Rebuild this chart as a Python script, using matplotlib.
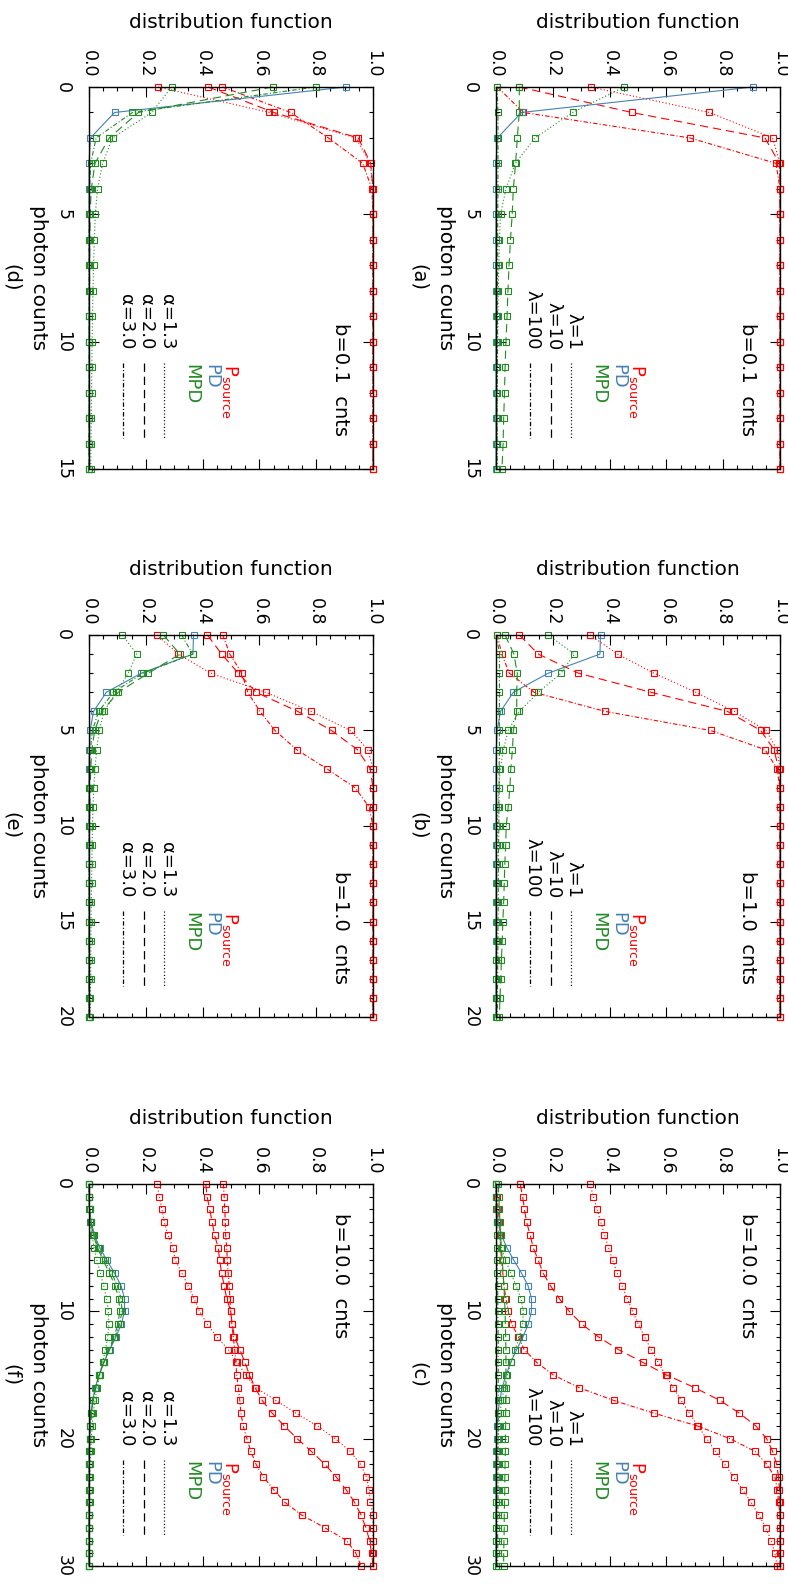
import numpy as np
import matplotlib
matplotlib.use('Agg')
import matplotlib.pyplot as plt
from matplotlib.ticker import MultipleLocator, FormatStrFormatter, FuncFormatter
from matplotlib.lines import Line2D

plt.rcParams['font.family'] = ['DejaVu Sans']
plt.rcParams['lines.scale_dashes'] = False
plt.rcParams['mathtext.fontset'] = 'dejavusans'

RED = '#ff0000'
BLUE = '#4682b4'
GREEN = '#228b22'

# ---------------- data ----------------
counts_b01 = np.arange(0, 16)
counts_b1 = np.arange(0, 21)
counts_b10 = np.arange(0, 31)

# PD (background Poisson)
pd_b01 = [0.905, 0.090, 0.005, 0.0, 0.0, 0.0, 0.0, 0.0, 0.0, 0.0, 0.0, 0.0, 0.0, 0.0, 0.0, 0.0]
pd_b1 = [0.368, 0.366, 0.184, 0.061, 0.016, 0.004, 0.001, 0.0, 0.0, 0.0, 0.0,
         0.0, 0.0, 0.0, 0.0, 0.0, 0.0, 0.0, 0.0, 0.0, 0.0]
pd_b10 = [0.0, 0.0, 0.002, 0.008, 0.019, 0.038, 0.063, 0.090, 0.113, 0.125, 0.125,
          0.114, 0.095, 0.073, 0.052, 0.035, 0.022, 0.013, 0.007, 0.004, 0.002,
          0.001, 0.0, 0.0, 0.0, 0.0, 0.0, 0.0, 0.0, 0.0, 0.0]

# panel (a): b=0.1, lambda = 1, 10, 100
src_a_l1 = [0.333, 0.751, 0.974, 1.0, 1.0, 1.0, 1.0, 1.0, 1.0, 1.0, 1.0, 1.0, 1.0, 1.0, 1.0, 1.0]
src_a_l10 = [0.082, 0.478, 0.947, 0.998, 1.0, 1.0, 1.0, 1.0, 1.0, 1.0, 1.0, 1.0, 1.0, 1.0, 1.0, 1.0]
src_a_l100 = [0.005, 0.096, 0.683, 0.986, 1.0, 1.0, 1.0, 1.0, 1.0, 1.0, 1.0, 1.0, 1.0, 1.0, 1.0, 1.0]
mpd_a_l1 = [0.451, 0.270, 0.137, 0.068, 0.035, 0.016, 0.012, 0.010, 0.008, 0.007, 0.006, 0.005, 0.005, 0.004, 0.004, 0.003]
mpd_a_l10 = [0.082, 0.082, 0.075, 0.069, 0.061, 0.057, 0.051, 0.046, 0.042, 0.039, 0.035, 0.032, 0.030, 0.027, 0.025, 0.021]
mpd_a_l100 = [0.004, 0.007, 0.007, 0.007, 0.007, 0.006, 0.006, 0.006, 0.005, 0.005, 0.005, 0.005, 0.004, 0.004, 0.004, 0.004]

# panel (d): b=0.1, alpha = 1.3, 2.0, 3.0
src_d_a13 = [0.243, 0.635, 0.940, 0.990, 1.0, 1.0, 1.0, 1.0, 1.0, 1.0, 1.0, 1.0, 1.0, 1.0, 1.0, 1.0]
src_d_a20 = [0.420, 0.651, 0.948, 0.992, 1.0, 1.0, 1.0, 1.0, 1.0, 1.0, 1.0, 1.0, 1.0, 1.0, 1.0, 1.0]
src_d_a30 = [0.470, 0.710, 0.843, 0.964, 0.996, 1.0, 1.0, 1.0, 1.0, 1.0, 1.0, 1.0, 1.0, 1.0, 1.0, 1.0]
mpd_d_a13 = [0.291, 0.221, 0.083, 0.048, 0.030, 0.022, 0.019, 0.016, 0.014, 0.012, 0.011, 0.010, 0.009, 0.008, 0.007, 0.006]
mpd_d_a20 = [0.647, 0.174, 0.071, 0.021, 0.008, 0.004, 0.003, 0.002, 0.002, 0.001, 0.001, 0.001, 0.001, 0.0, 0.0, 0.0]
mpd_d_a30 = [0.799, 0.153, 0.025, 0.006, 0.002, 0.001, 0.0, 0.0, 0.0, 0.0, 0.0, 0.0, 0.0, 0.0, 0.0, 0.0]

# panel (b): b=1.0, lambda = 1, 10, 100
src_b_l1 = [0.331, 0.428, 0.556, 0.704, 0.839, 0.951, 0.990, 1.0, 1.0, 1.0, 1.0,
            1.0, 1.0, 1.0, 1.0, 1.0, 1.0, 1.0, 1.0, 1.0, 1.0]
src_b_l10 = [0.082, 0.149, 0.290, 0.546, 0.815, 0.932, 0.979, 0.995, 1.0, 1.0, 1.0,
             1.0, 1.0, 1.0, 1.0, 1.0, 1.0, 1.0, 1.0, 1.0, 1.0]
src_b_l100 = [0.005, 0.020, 0.047, 0.134, 0.384, 0.756, 0.947, 0.990, 0.999, 1.0, 1.0,
              1.0, 1.0, 1.0, 1.0, 1.0, 1.0, 1.0, 1.0, 1.0, 1.0]
mpd_b_l1 = [0.184, 0.276, 0.229, 0.149, 0.082, 0.043, 0.026, 0.015, 0.010, 0.007, 0.005,
            0.004, 0.003, 0.003, 0.002, 0.002, 0.002, 0.001, 0.001, 0.001, 0.001]
mpd_b_l10 = [0.032, 0.063, 0.075, 0.073, 0.073, 0.061, 0.058, 0.052, 0.049, 0.043, 0.036,
             0.034, 0.031, 0.029, 0.027, 0.024, 0.022, 0.019, 0.017, 0.014, 0.012]
mpd_b_l100 = [0.002, 0.012, 0.012, 0.012, 0.012, 0.012, 0.012, 0.011, 0.011, 0.010, 0.010,
              0.009, 0.009, 0.008, 0.008, 0.007, 0.007, 0.006, 0.006, 0.005, 0.005]

# panel (e): b=1.0, alpha = 1.3, 2.0, 3.0
src_e_a13 = [0.239, 0.315, 0.428, 0.622, 0.782, 0.921, 0.981, 1.0, 1.0, 1.0, 1.0,
             1.0, 1.0, 1.0, 1.0, 1.0, 1.0, 1.0, 1.0, 1.0, 1.0]
src_e_a20 = [0.417, 0.467, 0.526, 0.588, 0.735, 0.854, 0.945, 0.990, 1.0, 1.0, 1.0,
             1.0, 1.0, 1.0, 1.0, 1.0, 1.0, 1.0, 1.0, 1.0, 1.0]
src_e_a30 = [0.471, 0.496, 0.538, 0.559, 0.602, 0.655, 0.731, 0.837, 0.937, 0.986, 1.0,
             1.0, 1.0, 1.0, 1.0, 1.0, 1.0, 1.0, 1.0, 1.0, 1.0]
mpd_e_a13 = [0.117, 0.168, 0.138, 0.096, 0.053, 0.036, 0.027, 0.021, 0.017, 0.014, 0.012,
             0.011, 0.010, 0.009, 0.008, 0.007, 0.007, 0.006, 0.006, 0.005, 0.005]
mpd_e_a20 = [0.262, 0.320, 0.209, 0.103, 0.045, 0.020, 0.010, 0.006, 0.004, 0.003, 0.002,
             0.002, 0.001, 0.001, 0.001, 0.001, 0.0, 0.0, 0.0, 0.0, 0.0]
mpd_e_a30 = [0.326, 0.365, 0.190, 0.086, 0.034, 0.012, 0.005, 0.002, 0.001, 0.0, 0.0,
             0.0, 0.0, 0.0, 0.0, 0.0, 0.0, 0.0, 0.0, 0.0, 0.0]

# panel (c): b=10, lambda = 1, 10, 100
src_c_l1 = [0.331, 0.343, 0.356, 0.369, 0.382, 0.396, 0.411, 0.427, 0.444, 0.462, 0.481,
            0.501, 0.523, 0.546, 0.571, 0.597, 0.624, 0.652, 0.681, 0.711, 0.742,
            0.773, 0.805, 0.837, 0.868, 0.898, 0.926, 0.950, 0.969, 0.982, 0.990]
src_c_l10 = [0.085, 0.094, 0.100, 0.108, 0.120, 0.131, 0.149, 0.166, 0.192, 0.223, 0.258,
             0.302, 0.360, 0.431, 0.516, 0.601, 0.700, 0.789, 0.857, 0.915, 0.953,
             0.974, 0.988, 0.995, 0.998, 1.0, 1.0, 1.0, 1.0, 1.0, 1.0]
src_c_l100 = [0.0, 0.005, 0.008, 0.012, 0.014, 0.016, 0.020, 0.024, 0.028, 0.035, 0.043,
              0.055, 0.079, 0.099, 0.143, 0.202, 0.293, 0.415, 0.556, 0.709, 0.824,
              0.912, 0.953, 0.982, 0.991, 0.995, 1.0, 1.0, 1.0, 1.0, 1.0]
mpd_c_l1 = [0.0, 0.0, 0.001, 0.004, 0.010, 0.020, 0.034, 0.052, 0.071, 0.088, 0.096,
            0.094, 0.082, 0.068, 0.053, 0.040, 0.029, 0.020, 0.014, 0.010, 0.007,
            0.005, 0.003, 0.002, 0.002, 0.001, 0.001, 0.001, 0.0, 0.0, 0.0]
mpd_c_l10 = [0.008, 0.010, 0.012, 0.014, 0.016, 0.019, 0.022, 0.025, 0.028, 0.030, 0.032,
             0.033, 0.034, 0.035, 0.035, 0.035, 0.035, 0.035, 0.034, 0.034, 0.033,
             0.033, 0.032, 0.031, 0.031, 0.030, 0.029, 0.029, 0.028, 0.027, 0.027]
mpd_c_l100 = [0.0, 0.0, 0.001, 0.002, 0.002, 0.003, 0.004, 0.005, 0.006, 0.006, 0.007,
              0.007, 0.008, 0.008, 0.008, 0.008, 0.008, 0.008, 0.008, 0.008, 0.008,
              0.007, 0.007, 0.007, 0.007, 0.007, 0.006, 0.006, 0.006, 0.006, 0.006]

# panel (f): b=10, alpha = 1.3, 2.0, 3.0
src_f_a13 = [0.239, 0.248, 0.257, 0.265, 0.278, 0.296, 0.304, 0.327, 0.349, 0.370, 0.389,
             0.416, 0.450, 0.490, 0.522, 0.552, 0.588, 0.658, 0.729, 0.804, 0.867,
             0.920, 0.956, 0.977, 0.986, 0.991, 1.0, 1.0, 1.0, 1.0, 1.0]
src_f_a20 = [0.411, 0.416, 0.425, 0.434, 0.442, 0.455, 0.460, 0.467, 0.476, 0.485, 0.499,
             0.504, 0.512, 0.531, 0.549, 0.565, 0.585, 0.610, 0.645, 0.688, 0.733,
             0.783, 0.830, 0.870, 0.905, 0.935, 0.958, 0.975, 0.988, 0.995, 1.0]
src_f_a30 = [0.473, 0.476, 0.478, 0.480, 0.481, 0.485, 0.487, 0.490, 0.494, 0.496, 0.499,
             0.503, 0.508, 0.513, 0.517, 0.520, 0.526, 0.531, 0.535, 0.543, 0.556,
             0.570, 0.588, 0.614, 0.650, 0.690, 0.749, 0.831, 0.907, 0.940, 0.958]
mpd_f_a13 = [0.0, 0.0, 0.001, 0.004, 0.010, 0.018, 0.028, 0.040, 0.052, 0.062, 0.068,
             0.070, 0.066, 0.058, 0.048, 0.038, 0.029, 0.021, 0.015, 0.011, 0.008,
             0.006, 0.004, 0.003, 0.002, 0.002, 0.001, 0.001, 0.001, 0.0, 0.0]
mpd_f_a20 = [0.0, 0.0, 0.002, 0.006, 0.015, 0.030, 0.050, 0.072, 0.092, 0.105, 0.108,
             0.102, 0.088, 0.070, 0.052, 0.036, 0.024, 0.015, 0.009, 0.005, 0.003,
             0.002, 0.001, 0.001, 0.0, 0.0, 0.0, 0.0, 0.0, 0.0, 0.0]
mpd_f_a30 = [0.0, 0.0, 0.002, 0.007, 0.017, 0.034, 0.056, 0.080, 0.100, 0.113, 0.116,
             0.108, 0.092, 0.072, 0.053, 0.036, 0.023, 0.014, 0.008, 0.004, 0.002,
             0.001, 0.001, 0.0, 0.0, 0.0, 0.0, 0.0, 0.0, 0.0, 0.0]

panel_letters = ['(a)', '(b)', '(c)', '(d)', '(e)', '(f)']
bg_labels = ['b=0.1  cnts', 'b=1.0  cnts', 'b=10.0  cnts']
lambda_labels = ['λ=1', 'λ=10', 'λ=100']
alpha_labels = ['α=1.3', 'α=2.0', 'α=3.0']
series_labels = ['P$_{\\mathrm{source}}$', 'PD', 'MPD']
dist_ticks = [0.0, 0.2, 0.4, 0.6, 0.8, 1.0]

# ---------------- styles ----------------
LS = [(0, (0.8, 1.6)), (0, (6.0, 3.5)), (0, (3.2, 1.5, 0.8, 1.5))]
LW = 0.8
MS = 3.8
MEW = 0.8

W, H = 788, 1585
fig = plt.figure(figsize=(W / 100, H / 100), dpi=100)

col_left = [89, 496]
row_top = [87, 635, 1184]
pw, ph = 284, 382


def add_axes(px, py):
    return fig.add_axes([px / W, 1 - (py + ph) / H, pw / W, ph / H])


def draw_series(ax, counts, vals, color, ls, solid=False):
    ax.plot(vals, counts, color=color, lw=LW, ls='-' if solid else ls,
            marker='s', ms=MS, mfc='none', mec=color, mew=MEW, clip_on=False)


def setup(ax, nmax, major, letter, btxt, b_top, leg_labels):
    ax.set_xlim(0, 1)
    ax.set_ylim(nmax, 0)
    ax.xaxis.set_major_locator(MultipleLocator(0.2))
    ax.xaxis.set_minor_locator(MultipleLocator(0.05))
    ax.xaxis.set_major_formatter(FormatStrFormatter('%.1f'))
    ax.yaxis.set_major_locator(MultipleLocator(major))
    ax.yaxis.set_minor_locator(MultipleLocator(1))
    ax.yaxis.set_major_formatter(FormatStrFormatter('%d'))
    ax.tick_params(axis='x', which='both', direction='in', top=True, bottom=True,
                   labeltop=True, labelbottom=False)
    ax.tick_params(axis='y', which='both', direction='in', left=True, right=True)
    ax.tick_params(axis='x', which='major', length=7, width=0.8, pad=7,
                   labelsize=12.5, labelrotation=-90)
    ax.tick_params(axis='y', which='major', length=7, width=0.8, pad=12,
                   labelsize=12.5, labelrotation=-90)
    ax.tick_params(which='minor', length=3, width=0.8)
    for lbl in ax.get_yticklabels():
        lbl.set_va('center')
    for s in ax.spines.values():
        s.set_linewidth(1.0)
    ax.xaxis.set_label_position('top')
    ax.set_xlabel('distribution function', fontsize=14.5, va='center')
    ax.xaxis.set_label_coords(0.5, 1 + 65 / ph)
    ax.set_ylabel('photon counts', fontsize=14.5, rotation=-90, va='center', ha='center')
    ax.yaxis.set_label_coords(-51 / pw, 0.5)
    ax.text(-78 / pw, 0.5, letter, transform=ax.transAxes, rotation=-90,
            ha='center', va='center', fontsize=14)
    ax.text(0.884, b_top, btxt, transform=ax.transAxes, rotation=-90,
            ha='center', va='top', fontsize=14)
    # legend: coloured series names
    for xx, txt, col in zip([0.497, 0.430, 0.361], series_labels, [RED, BLUE, GREEN]):
        ax.text(xx, 0.276, txt, transform=ax.transAxes, rotation=-90,
                ha='center', va='top', fontsize=13, color=col)
    # legend: parameter values and line style samples
    for xx, txt, ls in zip([0.273, 0.202, 0.129], leg_labels, LS):
        ax.text(xx, 0.312, txt, transform=ax.transAxes, rotation=-90,
                ha='center', va='bottom', fontsize=13)
        ax.add_line(Line2D([xx - 0.009, xx - 0.009], [0.277, 0.081], transform=ax.transAxes,
                           color='black', lw=0.9, ls=ls))


panels = [
    # col, row, counts, nmax, major, letter, btxt, b_top, labels, pd, src(3), mpd(3)
    (1, 0, counts_b01, 15, 5, '(a)', bg_labels[0], 0.382, lambda_labels, pd_b01,
     [src_a_l1, src_a_l10, src_a_l100], [mpd_a_l1, mpd_a_l10, mpd_a_l100]),
    (1, 1, counts_b1, 20, 5, '(b)', bg_labels[1], 0.382, lambda_labels, pd_b1,
     [src_b_l1, src_b_l10, src_b_l100], [mpd_b_l1, mpd_b_l10, mpd_b_l100]),
    (1, 2, counts_b10, 30, 10, '(c)', bg_labels[2], 0.924, lambda_labels, pd_b10,
     [src_c_l1, src_c_l10, src_c_l100], [mpd_c_l1, mpd_c_l10, mpd_c_l100]),
    (0, 0, counts_b01, 15, 5, '(d)', bg_labels[0], 0.382, alpha_labels, pd_b01,
     [src_d_a13, src_d_a20, src_d_a30], [mpd_d_a13, mpd_d_a20, mpd_d_a30]),
    (0, 1, counts_b1, 20, 5, '(e)', bg_labels[1], 0.382, alpha_labels, pd_b1,
     [src_e_a13, src_e_a20, src_e_a30], [mpd_e_a13, mpd_e_a20, mpd_e_a30]),
    (0, 2, counts_b10, 30, 10, '(f)', bg_labels[2], 0.924, alpha_labels, pd_b10,
     [src_f_a13, src_f_a20, src_f_a30], [mpd_f_a13, mpd_f_a20, mpd_f_a30]),
]

for (c, r, counts, nmax, major, letter, btxt, btop, labs, pdv, srcs, mpds) in panels:
    ax = add_axes(col_left[c], row_top[r])
    for vals, ls in zip(srcs, LS):
        draw_series(ax, counts, vals, RED, ls)
    draw_series(ax, counts, pdv, BLUE, None, solid=True)
    for vals, ls in zip(mpds, LS):
        draw_series(ax, counts, vals, GREEN, ls)
    setup(ax, nmax, major, letter, btxt, btop, labs)

fig.savefig('out.png', dpi=100)
